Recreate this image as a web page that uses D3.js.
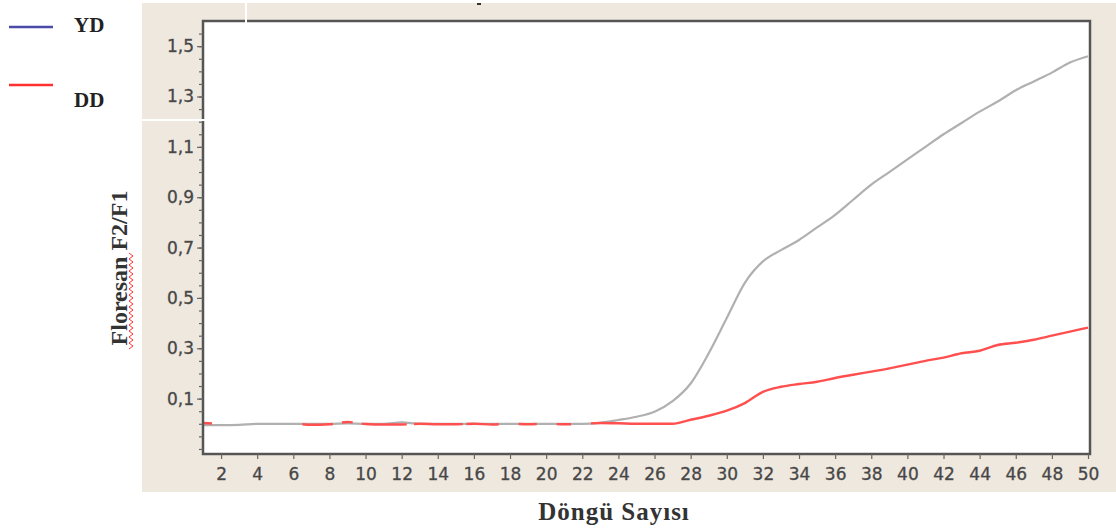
<!DOCTYPE html>
<html>
<head>
<meta charset="utf-8">
<script src="https://cdn.jsdelivr.net/npm/d3@7"></script>
<style>
  body { margin: 0; background: #fff; }
  svg { display: block; }
</style>
</head>
<body>
<div id="chart"></div>
<script>
const cycles = [1, 2, 3, 4, 5, 6, 7, 8, 9, 10, 11, 12, 13, 14, 15, 16, 17, 18, 19, 20, 21, 22, 23, 24, 25,
  26, 27, 28, 29, 30, 31, 32, 33, 34, 35, 36, 37, 38, 39, 40, 41, 42, 43, 44, 45, 46, 47, 48, 49, 50];

// grey curve (YD)
const ydValues = [-0.005, -0.005, -0.004, 0, 0, 0, 0, 0, 0.002, 0, 0, 0.006, 0, 0, 0, 0, 0, 0, 0, 0, 0, 0, 0.004,
  0.015, 0.028, 0.048, 0.09, 0.16, 0.28, 0.42, 0.56, 0.645, 0.69, 0.73, 0.78, 0.83, 0.89, 0.95, 1.0, 1.05,
  1.10, 1.15, 1.195, 1.24, 1.28, 1.325, 1.36, 1.395, 1.435, 1.46];

// red curve (DD)
const ddValues = [0.003, 0, 0, 0, 0, 0, -0.004, -0.002, 0.007, -0.001, -0.003, -0.003, 0, -0.002, -0.002, 0,
  -0.003, 0, -0.002, 0, -0.002, 0, 0.003, 0.002, 0, 0, 0, 0.016, 0.032, 0.052, 0.082, 0.127, 0.147, 0.158,
  0.167, 0.182, 0.195, 0.207, 0.22, 0.235, 0.25, 0.263, 0.28, 0.29, 0.313, 0.322, 0.334, 0.35, 0.366, 0.382];

const xTickValues = [2, 4, 6, 8, 10, 12, 14, 16, 18, 20, 22, 24, 26, 28, 30, 32, 34, 36, 38, 40, 42, 44, 46, 48, 50];
const yTickValues = [0.1, 0.3, 0.5, 0.7, 0.9, 1.1, 1.3, 1.5];
const legendLabels = ["YD", "DD"];
const xTitle = "Döngü Sayısı";
const yTitle = "Floresan F2/F1";

const fullWidth = 1116, fullHeight = 530;
const plot = { left: 203, right: 1090, top: 21, bottom: 454 };

const svg = d3.select("#chart").append("svg")
  .attr("width", fullWidth)
  .attr("height", fullHeight);

// === Panel ===
svg.append("rect")
  .attr("x", 142).attr("y", 3)
  .attr("width", fullWidth - 142).attr("height", 489)
  .attr("fill", "#efe8df");

svg.append("rect")
  .attr("x", plot.left).attr("y", plot.top)
  .attr("width", plot.right - plot.left).attr("height", plot.bottom - plot.top)
  .attr("fill", "#fff");

const x = d3.scaleLinear().domain([1, 50]).range([plot.left, plot.right - 2]);
const y = d3.scaleLinear().domain([-0.12, 1.6]).range([plot.bottom, plot.top]);

svg.append("clipPath").attr("id", "clip")
  .append("rect")
  .attr("x", plot.left).attr("y", plot.top)
  .attr("width", plot.right - plot.left).attr("height", plot.bottom - plot.top);

// === Lines ===
const line = d3.line()
  .x((d, i) => x(cycles[i]))
  .y(d => y(d))
  .curve(d3.curveMonotoneX);

svg.append("path")
  .datum(ydValues)
  .attr("clip-path", "url(#clip)")
  .attr("d", line)
  .attr("fill", "none")
  .attr("stroke", "#b0b0b0")
  .attr("stroke-width", 2.2);

// red is broken up by the grey one on the flat part
const redRuns = [[1, 1.5], [6.5, 8.2], [8.7, 9.3], [9.8, 12.3], [12.7, 15.4], [15.6, 17.4],
  [18.5, 19.5], [20.6, 21.4], [22.5, 80]];
const dash = [];
redRuns.forEach((r, i) => {
  dash.push(x(r[1]) - x(r[0]));
  const next = redRuns[i + 1];
  dash.push(next ? x(next[0]) - x(r[1]) : 10);
});

svg.append("path")
  .datum(ddValues)
  .attr("clip-path", "url(#clip)")
  .attr("d", line)
  .attr("fill", "none")
  .attr("stroke", "#ff4f4f")
  .attr("stroke-width", 2.4)
  .attr("stroke-dasharray", dash.join(","));

// === Frame ===
svg.append("rect")
  .attr("x", plot.left).attr("y", plot.top)
  .attr("width", plot.right - plot.left).attr("height", plot.bottom - plot.top)
  .attr("fill", "none")
  .attr("stroke", "#555")
  .attr("stroke-width", 2.5);

// === Axes ===
const fmt = v => d3.format(".1f")(v).replace(".", ",");

const yAxis = svg.append("g")
  .attr("transform", `translate(${plot.left},0)`)
  .call(d3.axisLeft(y).tickValues(yTickValues).tickSize(6).tickPadding(3).tickFormat(fmt));

svg.append("g")
  .attr("transform", `translate(${plot.left},0)`)
  .call(d3.axisLeft(y).tickValues(d3.range(-0.1, 1.6, 0.05)).tickSize(4).tickFormat(""))
  .call(g => g.select(".domain").remove());

const xAxis = svg.append("g")
  .attr("transform", `translate(0,${plot.bottom})`)
  .call(d3.axisBottom(x).tickValues(xTickValues).tickSize(5).tickPadding(9));

[xAxis, yAxis].forEach(g => {
  g.select(".domain").remove();
  g.selectAll(".tick text")
    .style("font-family", "'DejaVu Sans', sans-serif")
    .style("font-size", "17px")
    .style("fill", "#444")
    .style("stroke", "#555")
    .style("stroke-width", "0.35px");
});
svg.selectAll(".tick line").attr("stroke", "#666").attr("stroke-width", 1.2);

// === Axis titles ===
svg.append("text")
  .attr("x", 614)
  .attr("y", 520)
  .attr("text-anchor", "middle")
  .style("font-family", "'Liberation Serif', 'Times New Roman', serif")
  .style("font-weight", "bold")
  .style("font-size", "25px")
  .style("letter-spacing", "1px")
  .style("fill", "#333")
  .text(xTitle);

svg.append("text")
  .attr("transform", "translate(127,268) rotate(-90)")
  .attr("text-anchor", "middle")
  .style("font-family", "'Liberation Serif', 'Times New Roman', serif")
  .style("font-weight", "bold")
  .style("font-size", "24px")
  .style("fill", "#333")
  .text(yTitle);

// spell-check squiggle under "Floresan"
const squiggle = d3.path();
squiggle.moveTo(129, 349);
for (let yy = 349, k = 0; yy > 254; yy -= 3, k++) {
  squiggle.lineTo(k % 2 ? 129 : 133, yy - 3);
}
svg.append("path")
  .attr("d", squiggle.toString())
  .attr("fill", "none")
  .attr("stroke", "#ff3030")
  .attr("stroke-width", 1);

// === Legend ===
const legendColors = ["#4a4aa8", "#ff3030"];
const legendRows = [{ lineY: 27, textY: 32 }, { lineY: 85, textY: 107 }];
legendLabels.forEach((label, i) => {
  svg.append("line")
    .attr("x1", 9).attr("x2", 53)
    .attr("y1", legendRows[i].lineY).attr("y2", legendRows[i].lineY)
    .attr("stroke", legendColors[i])
    .attr("stroke-width", 2.5);
  svg.append("text")
    .attr("x", 74)
    .attr("y", legendRows[i].textY)
    .style("font-family", "'Liberation Serif', 'Times New Roman', serif")
    .style("font-weight", "bold")
    .style("font-size", "21px")
    .style("fill", "#222")
    .text(label);
});

// === Crop artefacts from the source image ===
svg.append("rect").attr("x", 245).attr("y", 0).attr("width", 2).attr("height", 23).attr("fill", "#fff");
svg.append("rect").attr("x", 142).attr("y", 119).attr("width", 64).attr("height", 2).attr("fill", "#fff");
svg.append("rect").attr("x", 477).attr("y", 3).attr("width", 4).attr("height", 2).attr("fill", "#333");
</script>
</body>
</html>
